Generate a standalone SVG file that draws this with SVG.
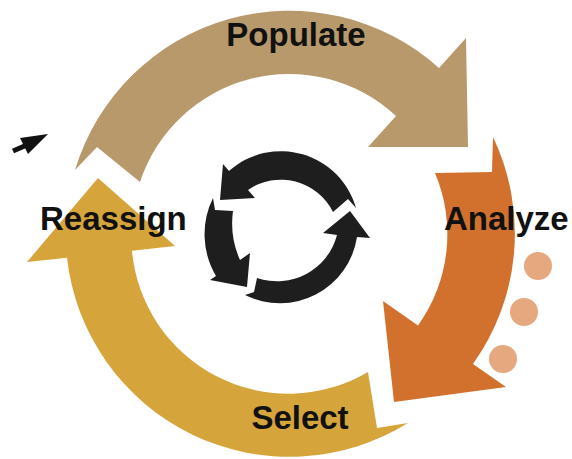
<svg xmlns="http://www.w3.org/2000/svg" width="572" height="459" viewBox="0 0 572 459">
<style>
.lbl{font-family:"Liberation Sans",Arial,sans-serif;font-weight:bold;font-size:33px;fill:#111111}
.ico{fill:#1e1e1e}
.dot{fill:#e6a87e}
</style>
<rect width="572" height="459" fill="#ffffff"/>
<g id="connectors">
<path id="arrow-populate" fill="#b8996c" d="M75,170 A224,224 0 0 1 439,68 L466,38 L468,147 L368,147 L396,116 A157,157 0 0 0 140,182 L97,147 Z"/>
<path id="arrow-analyze" fill="#d2712e" d="M493,137 A224,224 0 0 1 473,364 L506,387 L394,402 L383,301 L418,325.5 A157,157 0 0 0 435,173 L492,172 Z"/>
<path id="arrow-select" fill="#d5a53c" d="M408,423 A224,224 0 0 1 67,257.7 L27,262 L98,178 L175,246 L132,250.7 A157,157 0 0 0 368,372 L377,428 Z"/>
<g id="small-arrow">
<line x1="13" y1="151" x2="28" y2="144.5" stroke="#111" stroke-width="5"/>
<polygon points="48,134 20,138 28,154" fill="#111"/>
</g>
</g>
<g id="cycle-icon">
<path class="ico" d="M229,171 A78,78 0 0 1 356,208 L348,199 L333,212 A58,58 0 0 0 248,190 L255,198 L220,200 L223,164 Z"/>
<path class="ico" d="M213,198 A82,82 0 0 0 216,276 L210,280 L247,287 L250,253 L240,260 A90,90 0 0 1 233,211 L215,210 Z"/>
<path class="ico" d="M245,295 A78,78 0 0 0 357,237 L370,238 L350,211 L323,233 L337,235 A62,62 0 0 1 257,278 L254,292 Z"/>
</g>
<g id="dots">
<circle class="dot" cx="538" cy="266" r="14"/>
<circle class="dot" cx="524" cy="312" r="14"/>
<circle class="dot" cx="503" cy="359" r="14"/>
</g>
<g id="node-populate"><text class="lbl" x="296" y="46" text-anchor="middle">Populate</text></g>
<g id="node-analyze"><text class="lbl" x="444" y="230">Analyze</text></g>
<g id="node-reassign"><text class="lbl" x="40" y="230">Reassign</text></g>
<g id="node-select"><text class="lbl" x="300" y="429" text-anchor="middle">Select</text></g>
</svg>
